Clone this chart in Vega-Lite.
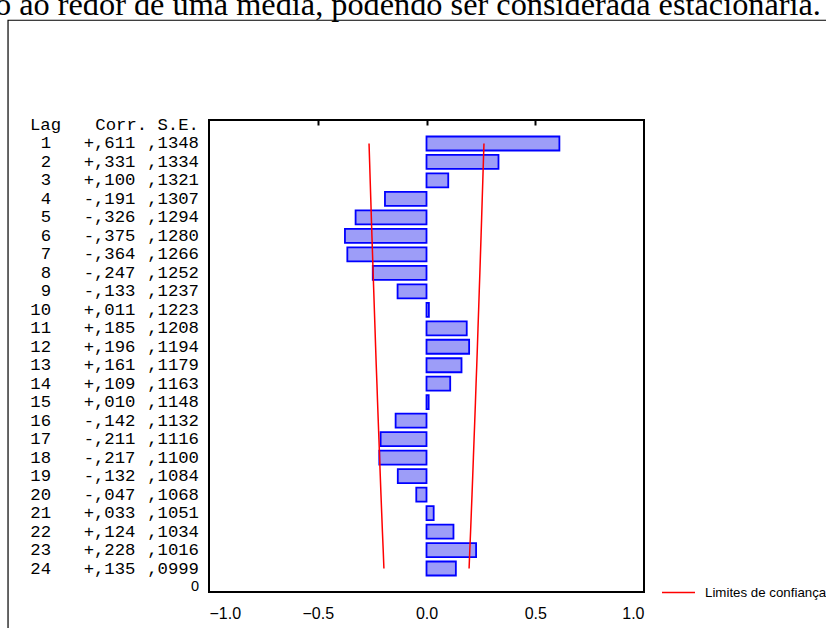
{
  "$schema": "https://vega.github.io/schema/vega-lite/v6.json",
  "width": 435,
  "height": 472,
  "autosize": "none",
  "padding": {"left": 209, "top": 120, "right": 182, "bottom": 36},
  "background": "white",
  "config": {
    "view": {"stroke": "black", "strokeWidth": 2},
    "axis": {"grid": false, "domain": false}
  },
  "datasets": {
    "acf": [
      {"lag": 1, "corr": 0.611, "se": 0.1348, "lo": -0.2642, "hi": 0.2642, "corrText": "+,611", "seText": ",1348"},
      {"lag": 2, "corr": 0.331, "se": 0.1334, "lo": -0.2615, "hi": 0.2615, "corrText": "+,331", "seText": ",1334"},
      {"lag": 3, "corr": 0.100, "se": 0.1321, "lo": -0.2589, "hi": 0.2589, "corrText": "+,100", "seText": ",1321"},
      {"lag": 4, "corr": -0.191, "se": 0.1307, "lo": -0.2562, "hi": 0.2562, "corrText": "-,191", "seText": ",1307"},
      {"lag": 5, "corr": -0.326, "se": 0.1294, "lo": -0.2536, "hi": 0.2536, "corrText": "-,326", "seText": ",1294"},
      {"lag": 6, "corr": -0.375, "se": 0.1280, "lo": -0.2509, "hi": 0.2509, "corrText": "-,375", "seText": ",1280"},
      {"lag": 7, "corr": -0.364, "se": 0.1266, "lo": -0.2481, "hi": 0.2481, "corrText": "-,364", "seText": ",1266"},
      {"lag": 8, "corr": -0.247, "se": 0.1252, "lo": -0.2454, "hi": 0.2454, "corrText": "-,247", "seText": ",1252"},
      {"lag": 9, "corr": -0.133, "se": 0.1237, "lo": -0.2425, "hi": 0.2425, "corrText": "-,133", "seText": ",1237"},
      {"lag": 10, "corr": 0.011, "se": 0.1223, "lo": -0.2397, "hi": 0.2397, "corrText": "+,011", "seText": ",1223"},
      {"lag": 11, "corr": 0.185, "se": 0.1208, "lo": -0.2368, "hi": 0.2368, "corrText": "+,185", "seText": ",1208"},
      {"lag": 12, "corr": 0.196, "se": 0.1194, "lo": -0.2340, "hi": 0.2340, "corrText": "+,196", "seText": ",1194"},
      {"lag": 13, "corr": 0.161, "se": 0.1179, "lo": -0.2311, "hi": 0.2311, "corrText": "+,161", "seText": ",1179"},
      {"lag": 14, "corr": 0.109, "se": 0.1163, "lo": -0.2279, "hi": 0.2279, "corrText": "+,109", "seText": ",1163"},
      {"lag": 15, "corr": 0.010, "se": 0.1148, "lo": -0.2250, "hi": 0.2250, "corrText": "+,010", "seText": ",1148"},
      {"lag": 16, "corr": -0.142, "se": 0.1132, "lo": -0.2219, "hi": 0.2219, "corrText": "-,142", "seText": ",1132"},
      {"lag": 17, "corr": -0.211, "se": 0.1116, "lo": -0.2187, "hi": 0.2187, "corrText": "-,211", "seText": ",1116"},
      {"lag": 18, "corr": -0.217, "se": 0.1100, "lo": -0.2156, "hi": 0.2156, "corrText": "-,217", "seText": ",1100"},
      {"lag": 19, "corr": -0.132, "se": 0.1084, "lo": -0.2125, "hi": 0.2125, "corrText": "-,132", "seText": ",1084"},
      {"lag": 20, "corr": -0.047, "se": 0.1068, "lo": -0.2093, "hi": 0.2093, "corrText": "-,047", "seText": ",1068"},
      {"lag": 21, "corr": 0.033, "se": 0.1051, "lo": -0.2060, "hi": 0.2060, "corrText": "+,033", "seText": ",1051"},
      {"lag": 22, "corr": 0.124, "se": 0.1034, "lo": -0.2027, "hi": 0.2027, "corrText": "+,124", "seText": ",1034"},
      {"lag": 23, "corr": 0.228, "se": 0.1016, "lo": -0.1991, "hi": 0.1991, "corrText": "+,228", "seText": ",1016"},
      {"lag": 24, "corr": 0.135, "se": 0.0999, "lo": -0.1958, "hi": 0.1958, "corrText": "+,135", "seText": ",0999"}
    ]
  },
  "data": {"name": "acf"},
  "resolve": {"axis": {"x": "independent"}},
  "layer": [
    {
      "data": {"values": [{}]},
      "mark": {"type": "rect", "fill": null, "filled": false, "stroke": "black", "strokeWidth": 1.2},
      "encoding": {
        "x": {"datum": -1.924, "type": "quantitative", "scale": {"domain": [-1, 1], "nice": false, "zero": false}, "axis": null},
        "x2": {"datum": 2.5},
        "y": {"datum": -5.667, "type": "quantitative", "scale": {"domain": [0, 25], "nice": false, "zero": false, "reverse": true}, "axis": null},
        "y2": {"datum": 40}
      }
    },
    {
      "data": {"values": [{}]},
      "mark": {"type": "text", "align": "left", "baseline": "alphabetic", "font": "Liberation Serif", "fontSize": 32.3, "color": "black", "text": "o ao redor de uma média, podendo ser considerada estacionária."},
      "encoding": {
        "x": {"datum": -1.984, "type": "quantitative", "axis": null},
        "y": {"datum": -5.93, "type": "quantitative", "axis": null}
      }
    },
    {
      "mark": {"type": "bar", "orient": "horizontal", "size": 14, "fill": "#9d9df8", "stroke": "#0000ff", "strokeWidth": 1.8},
      "encoding": {
        "x": {"field": "corr", "type": "quantitative",
              "axis": {"orient": "bottom", "values": [-1, -0.5, 0, 0.5, 1], "format": ".1f", "title": null, "ticks": false, "labelPadding": 13, "labelFont": "Liberation Sans", "labelFontSize": 16, "labelColor": "black"}},
        "x2": {"datum": 0},
        "y": {"field": "lag", "type": "quantitative", "axis": null}
      }
    },
    {
      "mark": {"type": "line", "strokeWidth": 1.5},
      "encoding": {
        "x": {"field": "lo", "type": "quantitative",
              "axis": {"orient": "top", "values": [-0.5, 0, 0.5], "labels": false, "title": null, "ticks": true, "tickSize": -5, "tickWidth": 2, "tickColor": "black"}},
        "y": {"field": "lag", "type": "quantitative", "axis": null},
        "order": {"field": "lag"},
        "color": {"datum": "Limites de confiança", "type": "nominal",
                  "scale": {"domain": ["Limites de confiança"], "range": ["#ff0000"]},
                  "legend": {"title": null, "orient": "none", "legendX": 452, "legendY": 455, "symbolType": "stroke", "symbolSize": 1089, "symbolStrokeWidth": 1.5, "labelFont": "Liberation Sans", "labelFontSize": 13.3, "labelColor": "black", "labelOffset": 9, "padding": 0}}
      }
    },
    {
      "mark": {"type": "line", "strokeWidth": 1.5},
      "encoding": {
        "x": {"field": "hi", "type": "quantitative", "axis": null},
        "y": {"field": "lag", "type": "quantitative", "axis": null},
        "order": {"field": "lag"},
        "color": {"datum": "Limites de confiança", "type": "nominal"}
      }
    },
    {
      "mark": {"type": "text", "align": "right", "baseline": "middle", "font": "Liberation Mono", "fontSize": 17.3, "color": "black"},
      "encoding": {
        "x": {"datum": -1.726, "type": "quantitative", "axis": null},
        "y": {"field": "lag", "type": "quantitative", "axis": null},
        "text": {"field": "lag", "type": "quantitative"}
      }
    },
    {
      "mark": {"type": "text", "align": "right", "baseline": "middle", "font": "Liberation Mono", "fontSize": 17.3, "color": "black"},
      "encoding": {
        "x": {"datum": -1.338, "type": "quantitative", "axis": null},
        "y": {"field": "lag", "type": "quantitative", "axis": null},
        "text": {"field": "corrText"}
      }
    },
    {
      "mark": {"type": "text", "align": "right", "baseline": "middle", "font": "Liberation Mono", "fontSize": 17.3, "color": "black"},
      "encoding": {
        "x": {"datum": -1.046, "type": "quantitative", "axis": null},
        "y": {"field": "lag", "type": "quantitative", "axis": null},
        "text": {"field": "seText"}
      }
    },
    {
      "data": {"values": [{}]},
      "mark": {"type": "text", "align": "left", "baseline": "middle", "font": "Liberation Mono", "fontSize": 17.3, "color": "black", "text": "Lag"},
      "encoding": {
        "x": {"datum": -1.823, "type": "quantitative", "axis": null},
        "y": {"datum": 0, "type": "quantitative", "axis": null}
      }
    },
    {
      "data": {"values": [{}]},
      "mark": {"type": "text", "align": "right", "baseline": "middle", "font": "Liberation Mono", "fontSize": 17.3, "color": "black", "text": "Corr. S.E."},
      "encoding": {
        "x": {"datum": -1.046, "type": "quantitative", "axis": null},
        "y": {"datum": 0, "type": "quantitative", "axis": null}
      }
    },
    {
      "data": {"values": [{}]},
      "mark": {"type": "text", "align": "right", "baseline": "middle", "font": "Liberation Sans", "fontSize": 14.5, "color": "black", "text": "0"},
      "encoding": {
        "x": {"datum": -1.046, "type": "quantitative", "axis": null},
        "y": {"datum": 25, "type": "quantitative", "axis": null}
      }
    }
  ]
}
